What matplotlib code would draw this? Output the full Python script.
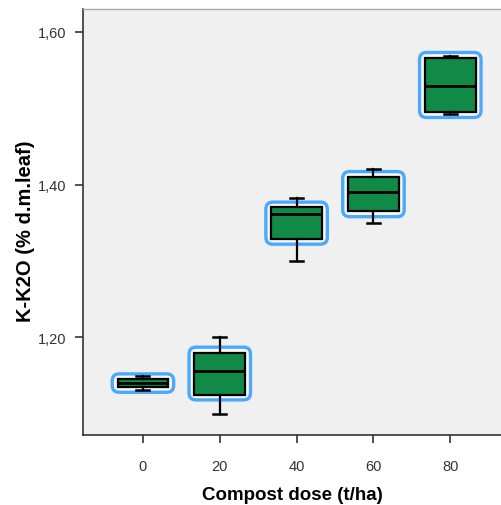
import matplotlib
matplotlib.use('Agg')
import matplotlib.pyplot as plt
from matplotlib.patches import FancyBboxPatch

plt.rcParams['font.family'] = ['Liberation Sans', 'DejaVu Sans']

# data
doses = ['0', '20', '40', '60', '80']
whis_low = [1.131, 1.100, 1.300, 1.350, 1.493]
q1 = [1.135, 1.125, 1.329, 1.365, 1.495]
median = [1.140, 1.156, 1.361, 1.390, 1.529]
q3 = [1.145, 1.180, 1.370, 1.410, 1.566]
whis_high = [1.149, 1.200, 1.382, 1.421, 1.569]
y_ticks = [1.20, 1.40, 1.60]
y_tick_labels = ['1,20', '1,40', '1,60']

fig = plt.figure(figsize=(5.01, 5.06), dpi=100)
ax = fig.add_axes([83 / 501, 1 - 436 / 506, 1 - 83 / 501, 426 / 506])
ax.set_facecolor('#f0f0f0')

ax.set_xlim(-0.78, 4.66)
ax.set_ylim(1.072, 1.630)

stats = []
for i in range(len(doses)):
    stats.append({'med': median[i], 'q1': q1[i], 'q3': q3[i],
                  'whislo': whis_low[i], 'whishi': whis_high[i], 'fliers': []})

positions = list(range(len(doses)))
box_w = 0.66

# highlight frames behind the boxes
px_x = ax.get_window_extent().width / (4.66 + 0.78)
px_y = ax.get_window_extent().height / (1.630 - 1.072)
aspect = px_x / px_y
for i, p in enumerate(positions):
    hl = FancyBboxPatch((p - box_w / 2, q1[i]), box_w, q3[i] - q1[i],
                        boxstyle='round,pad=0.07,rounding_size=0.09',
                        mutation_aspect=aspect,
                        facecolor='#f7f7f7', edgecolor='#4aa8ff', lw=2.4, zorder=2)
    ax.add_patch(hl)

bp = ax.bxp(stats, positions=positions, widths=box_w, patch_artist=True,
            showfliers=False, capwidths=0.17,
            boxprops=dict(facecolor='#108a46', edgecolor='black', lw=1.6),
            medianprops=dict(color='black', lw=2.0),
            whiskerprops=dict(color='black', lw=1.6),
            capprops=dict(color='black', lw=1.8),
            zorder=3)

ax.set_xticks(positions)
ax.set_xticklabels(doses)
ax.set_yticks(y_ticks)
ax.set_yticklabels(y_tick_labels)
ax.tick_params(axis='both', direction='out', length=6, width=1.2,
               labelsize=10.5, labelcolor='#333333', color='#333333', pad=6)
ax.tick_params(axis='x', pad=11)

for side in ['left', 'bottom']:
    ax.spines[side].set_color('#333333')
    ax.spines[side].set_linewidth(1.2)
ax.spines['top'].set_color('#aaaaaa')
ax.spines['top'].set_linewidth(1.0)
ax.spines['right'].set_visible(False)

ax.set_xlabel('Compost dose (t/ha)', fontsize=13.5, fontweight='bold', labelpad=10)
ax.set_ylabel('K-K2O (% d.m.leaf)', fontsize=14.5, fontweight='bold')
ax.yaxis.set_label_coords(-0.115, 0.48)

fig.savefig('out.png', dpi=100)
